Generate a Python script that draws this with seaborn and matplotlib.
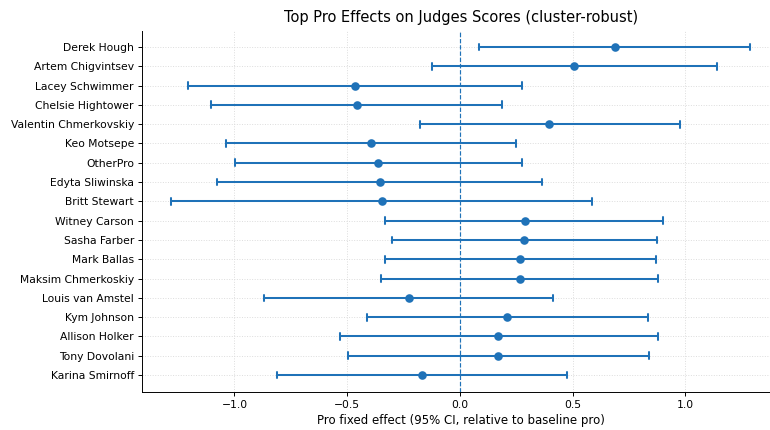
import matplotlib
matplotlib.use("Agg")
import matplotlib.pyplot as plt
import seaborn as sns
import pandas as pd

pros = [
    "Derek Hough", "Artem Chigvintsev", "Lacey Schwimmer", "Chelsie Hightower",
    "Valentin Chmerkovskiy", "Keo Motsepe", "OtherPro", "Edyta Sliwinska",
    "Britt Stewart", "Witney Carson", "Sasha Farber", "Mark Ballas",
    "Maksim Chmerkoskiy", "Louis van Amstel", "Kym Johnson", "Allison Holker",
    "Tony Dovolani", "Karina Smirnoff",
]
effect = [0.687, 0.508, -0.467, -0.458, 0.397, -0.396, -0.363, -0.356, -0.346,
          0.288, 0.285, 0.267, 0.266, -0.226, 0.211, 0.171, 0.171, -0.168]
ci_low = [0.087, -0.123, -1.208, -1.106, -0.175, -1.037, -0.999, -1.078, -1.281,
          -0.330, -0.303, -0.334, -0.349, -0.867, -0.412, -0.533, -0.498, -0.813]
ci_high = [1.289, 1.139, 0.277, 0.189, 0.975, 0.251, 0.275, 0.365, 0.586,
           0.902, 0.873, 0.870, 0.880, 0.413, 0.836, 0.877, 0.840, 0.474]

# Long table: lower bound, estimate, upper bound per pro. The median gives the
# estimate and the full (100%) percentile interval spans the confidence interval.
rows = []
for p, lo, est, hi in zip(pros, ci_low, effect, ci_high):
    for v in (lo, est, hi):
        rows.append({"pro": p, "value": v})
df = pd.DataFrame(rows)

sns.set_theme(style="ticks", rc={
    "text.color": "black", "axes.labelcolor": "black",
    "xtick.color": "black", "ytick.color": "black",
    "axes.edgecolor": "black",
})
plt.rcParams["font.family"] = ["DejaVu Sans"]

color = "#1f72b8"
fig = plt.figure(figsize=(10, 430 / 77), dpi=77)
ax = fig.add_axes([0.1844, 0.0895, 0.8286, 0.8395])

sns.pointplot(
    data=df, x="value", y="pro", order=pros, orient="h",
    estimator="median", errorbar=("pi", 100),
    linestyle="none", color=color, capsize=0.35,
    markersize=6, err_kws={"linewidth": 1.9}, ax=ax,
)
ax.axvline(0, color=color, linestyle="--", linewidth=1.1, zorder=1)

# light dotted grid on both axes, behind the intervals
ax.grid(True, axis="both", linestyle=":", color="#dcdcdc", linewidth=0.9)
ax.set_axisbelow(True)

ax.set_xlim(-1.41, 1.42)
ax.set_ylim(17.85, -0.85)
ax.set_xticks([-1.0, -0.5, 0.0, 0.5, 1.0])
ax.set_xticklabels(["\u22121.0", "\u22120.5", "0.0", "0.5", "1.0"])
ax.set_ylabel("")
ax.set_xlabel("Pro fixed effect (95% CI, relative to baseline pro)", fontsize=11)
ax.set_title("Top Pro Effects on Judges Scores (cluster-robust)", fontsize=13.7, pad=8)
ax.tick_params(labelsize=10, width=0.9, length=4)
for s in ("left", "bottom"):
    ax.spines[s].set_linewidth(0.9)
sns.despine(ax=ax)

fig.savefig("out.png", dpi=77)
